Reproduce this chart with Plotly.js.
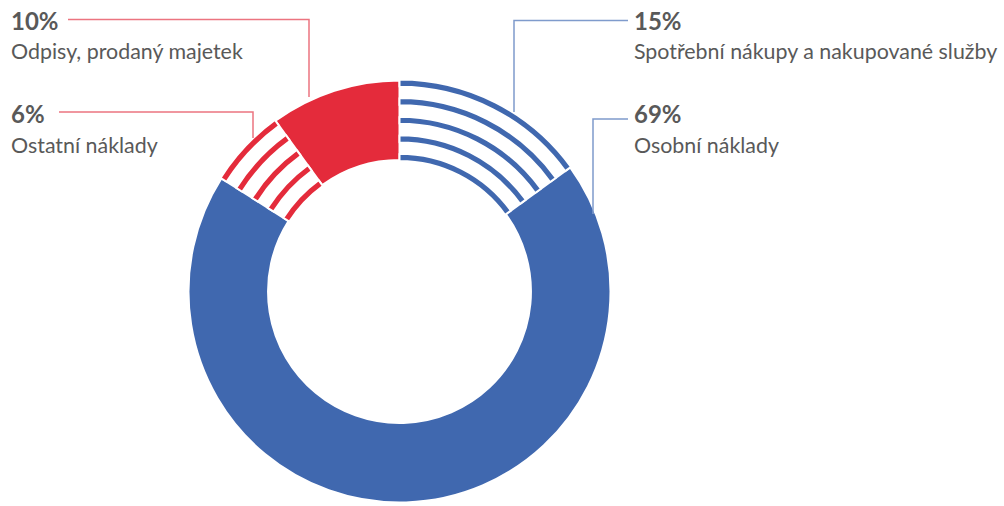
<!DOCTYPE html>
<html>
<head>
<meta charset="utf-8">
<script src="https://cdn.plot.ly/plotly-3.0.1.min.js"></script>
<style>html,body{margin:0;padding:0;background:#fff;}#chart{width:1004px;height:506px;}</style>
</head>
<body>
<div id="chart"></div>
<script>
// ---- data ----
const labels = ["Spotřební nákupy a nakupované služby", "Osobní náklady", "Ostatní náklady", "Odpisy, prodaný majetek"];
const values = [15, 69, 6, 10];
const baseColors = ["#4068AF", "#4068AF", "#E42B3B", "#E42B3B"];
const striped = [true, false, true, false];
const lineColors = ["#7F9BCC", "#7F9BCC", "#EC7480", "#EC7480"];

// ---- geometry (layout only) ----
const W = 1004, H = 506;
const CX = 399.5, CY = 291.5, R = 211, HOLE = 0.623;
function dom(r) {
  return { x: [(CX - r) / W, (CX + r) / W], y: [1 - (CY + r) / H, 1 - (CY - r) / H] };
}
const px = v => v / W;
const py = v => 1 - v / H;
const T = "rgba(0,0,0,0)";

const traces = [];
// solid slices
traces.push({
  type: "pie", labels: labels, values: values, sort: false, direction: "clockwise", rotation: 0,
  hole: HOLE, domain: dom(R), textinfo: "none", hoverinfo: "skip", showlegend: false,
  marker: { colors: baseColors.map((c, i) => striped[i] ? T : c),
            line: { color: "#ffffff", width: striped.map(s => s ? 0 : 2) } }
});
// concentric stripes for patterned slices
const nStripes = 5, t = 5.2;
const rin = HOLE * R;
for (let k = 0; k < nStripes; k++) {
  const o = R - k * (R - rin - t) / (nStripes - 1);
  const outer = o + 1, inner = o - t - 1;
  traces.push({
    type: "pie", labels: labels, values: values, sort: false, direction: "clockwise", rotation: 0,
    hole: inner / outer, domain: dom(outer), textinfo: "none", hoverinfo: "skip", showlegend: false,
    marker: { colors: baseColors.map((c, i) => striped[i] ? c : T),
              line: { color: "#ffffff", width: striped.map(s => s ? 2 : 0) } }
  });
}

// label placement (pixels)
const place = [
  { tx: 632, py: 21, ny: 51, ly: 20.5, lx0: 628, ex: 514, ey: 112 },
  { tx: 632, py: 113, ny: 145, ly: 119, lx0: 628, ex: 593, ey: 214 },
  { tx: 9, py: 113, ny: 145, ly: 112, lx0: 59, ex: 253, ey: 138 },
  { tx: 9, py: 21, ny: 51, ly: 19.5, lx0: 68, ex: 309, ey: 97 }
];

const annotations = [], shapes = [];
labels.forEach((lab, i) => {
  const p = place[i];
  annotations.push({ xref: "paper", yref: "paper", x: px(p.tx), y: py(p.py), xanchor: "left", yanchor: "middle",
    text: "<b>" + values[i] + "%</b>", showarrow: false, font: { family: "Lato, 'Open Sans', sans-serif", size: 24, color: "#595959" } });
  annotations.push({ xref: "paper", yref: "paper", x: px(p.tx), y: py(p.ny), xanchor: "left", yanchor: "middle",
    text: lab, showarrow: false, font: { family: "Lato, 'Open Sans', sans-serif", size: 21.4, color: "#595959" } });
  shapes.push({ type: "path", xref: "paper", yref: "paper",
    path: "M" + px(p.lx0) + "," + py(p.ly) + " L" + px(p.ex) + "," + py(p.ly) + " L" + px(p.ex) + "," + py(p.ey),
    line: { color: lineColors[i], width: 1.5 } });
});

const layout = {
  width: W, height: H, margin: { l: 0, r: 0, t: 0, b: 0 },
  paper_bgcolor: "#ffffff", plot_bgcolor: "#ffffff",
  showlegend: false, annotations: annotations, shapes: shapes
};
Plotly.newPlot("chart", traces, layout, { staticPlot: true, displayModeBar: false });
</script>
</body>
</html>
